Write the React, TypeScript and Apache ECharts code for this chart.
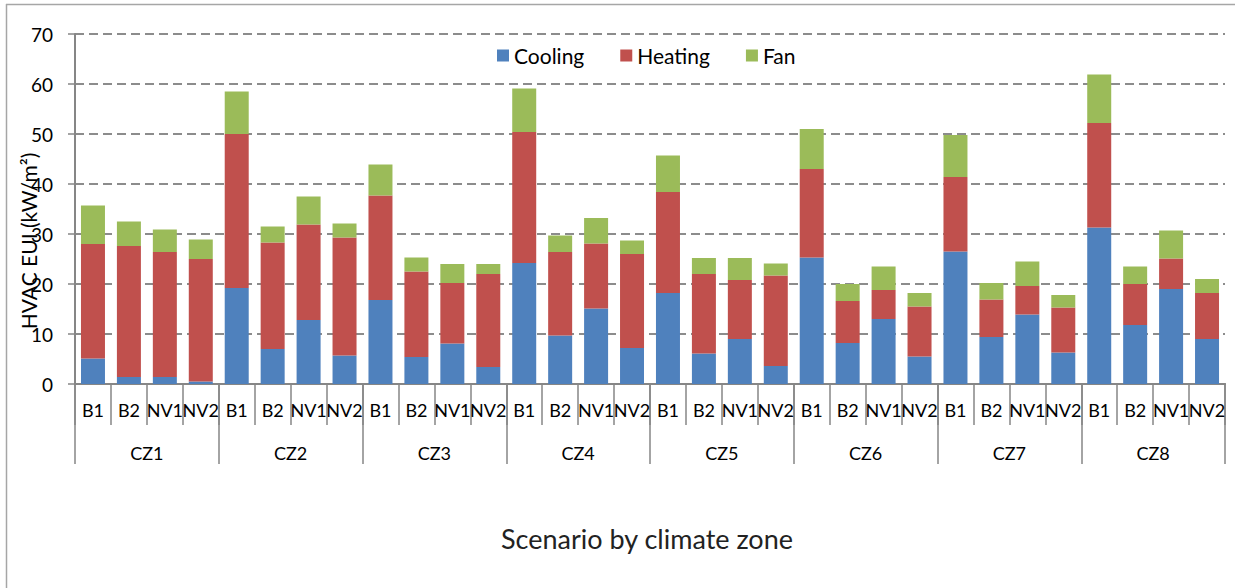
import React, { useEffect, useRef } from "react";
import * as echarts from "echarts";

const scenarios = ["B1", "B2", "NV1", "NV2"];
const zones = ["CZ1", "CZ2", "CZ3", "CZ4", "CZ5", "CZ6", "CZ7", "CZ8"];
const yTicks = { min: 0, max: 70, interval: 10 };

const cooling = [
  5.1, 1.4, 1.4, 0.5,
  19.2, 7.0, 12.8, 5.7,
  16.8, 5.4, 8.1, 3.4,
  24.2, 9.7, 15.1, 7.2,
  18.2, 6.1, 9.0, 3.6,
  25.3, 8.2, 13.0, 5.5,
  26.5, 9.4, 13.9, 6.3,
  31.3, 11.8, 19.0, 9.0,
];
const heating = [
  22.9, 26.2, 25.0, 24.5,
  30.8, 21.3, 19.1, 23.6,
  20.9, 17.1, 12.1, 18.6,
  26.2, 16.7, 13.0, 18.8,
  20.2, 15.9, 11.8, 18.1,
  17.7, 8.4, 5.8, 10.0,
  14.9, 7.5, 5.7, 9.0,
  20.9, 8.2, 6.1, 9.2,
];
const fan = [
  7.7, 4.9, 4.5, 3.9,
  8.5, 3.2, 5.6, 2.8,
  6.2, 2.8, 3.8, 2.0,
  8.7, 3.3, 5.1, 2.7,
  7.3, 3.2, 4.4, 2.4,
  8.0, 3.4, 4.7, 2.7,
  8.4, 3.3, 4.9, 2.5,
  9.7, 3.5, 5.6, 2.8,
];

const categories: string[] = [];
zones.forEach(() => scenarios.forEach((s) => categories.push(s)));

const FONT = "Lato";
const AXIS_GRAY = "#868686";

export default function App() {
  const ref = useRef<HTMLDivElement>(null);
  useEffect(() => {
    document.body.style.margin = "0";
    const chart = echarts.init(ref.current!, null, { renderer: "svg" });
    chart.setOption({
      animation: false,
      backgroundColor: "#ffffff",
      textStyle: { fontFamily: FONT },
      grid: { left: 75, top: 34, right: 10, bottom: 204, containLabel: false },
      legend: {
        top: 40,
        left: 492,
        itemWidth: 12,
        itemHeight: 12,
        itemGap: 36,
        icon: "rect",
        textStyle: { fontSize: 21, color: "#000", fontFamily: FONT },
        data: ["Cooling", "Heating", "Fan"],
      },
      xAxis: [
        {
          type: "category",
          data: categories,
          position: "bottom",
          axisLine: { show: true, lineStyle: { color: AXIS_GRAY, width: 2 } },
          axisTick: { show: true, interval: 0, length: 41, lineStyle: { color: AXIS_GRAY, width: 1.5 } },
          axisLabel: { interval: 0, fontSize: 18, color: "#000", margin: 17, fontFamily: FONT },
          splitLine: { show: false },
        },
        {
          type: "category",
          data: zones,
          position: "bottom",
          axisLine: { show: true, lineStyle: { color: AXIS_GRAY, width: 2 } },
          axisTick: { show: true, interval: 0, length: 80, lineStyle: { color: AXIS_GRAY, width: 1.5 } },
          axisLabel: { interval: 0, fontSize: 18, color: "#000", margin: 60, fontFamily: FONT },
          splitLine: { show: false },
        },
      ],
      yAxis: {
        type: "value",
        min: yTicks.min,
        max: yTicks.max,
        interval: yTicks.interval,
        axisLine: { show: true, lineStyle: { color: AXIS_GRAY, width: 2 } },
        axisTick: { show: true, length: 7, lineStyle: { color: AXIS_GRAY, width: 1.5 } },
        axisLabel: { fontSize: 19, color: "#000", margin: 22, fontFamily: FONT },
        splitLine: { show: true, lineStyle: { color: "#8c8c8c", width: 2, type: [9, 5] } },
      },
      graphic: [
        {
          type: "text",
          x: 28,
          y: 241,
          rotation: Math.PI / 2,
          style: {
            text: "HVAC EUI (kW/m²)",
            fontSize: 21,
            fontFamily: FONT,
            fill: "#000",
            textAlign: "center",
            textVerticalAlign: "middle",
          },
        },
        {
          type: "text",
          x: 647,
          y: 538,
          style: {
            text: "Scenario by climate zone",
            fontSize: 27,
            fontFamily: FONT,
            fill: "#222",
            textAlign: "center",
            textVerticalAlign: "middle",
          },
        },
        {
          type: "line",
          shape: { x1: 6.5, y1: 4, x2: 6.5, y2: 588 },
          style: { stroke: "#a6a6a6", lineWidth: 1.5 },
        },
        {
          type: "line",
          shape: { x1: 6, y1: 4.5, x2: 1235, y2: 4.5 },
          style: { stroke: "#a6a6a6", lineWidth: 1.5 },
        },
      ],
      series: [
        { name: "Cooling", type: "bar", stack: "total", data: cooling, barWidth: 24, itemStyle: { color: "#4F81BD" } },
        { name: "Heating", type: "bar", stack: "total", data: heating, barWidth: 24, itemStyle: { color: "#C0504D" } },
        { name: "Fan", type: "bar", stack: "total", data: fan, barWidth: 24, itemStyle: { color: "#9BBB59" } },
      ],
    });
    return () => chart.dispose();
  }, []);
  return (
    <div
      ref={ref}
      style={{ position: "fixed", left: 0, top: 0, width: 1235, height: 588 }}
    />
  );
}
